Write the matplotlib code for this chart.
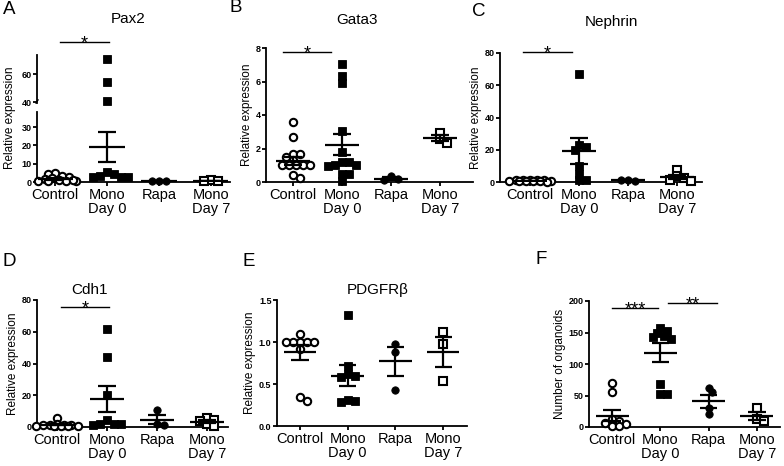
import matplotlib
matplotlib.use('Agg')
import matplotlib.pyplot as plt

plt.rcParams['font.family'] = ['Liberation Sans', 'DejaVu Sans']

# --- DATA ---
groups = ['Control', 'Mono\nDay 0', 'Rapa', 'Mono\nDay 7']

# A - Pax2
pax2_ctrl = [4.8, 3.5, 4.6, 2.8, 2.0, 1.5, 1.0, 0.8, 0.6, 0.4, 0.5, 1.2]
pax2_mono0 = [71, 54, 40.5, 5.5, 4.5, 3.5, 3.0, 2.5, 2.5]
pax2_rapa = [0.3, 0.3, 0.3]
pax2_mono7 = [0.9, 0.6, 0.4]
pax2_mean = [1.8, 19.2, 0.3, 0.6]
pax2_sem = [0.5, 8.2, 0.02, 0.15]

# B - Gata3
gata3_ctrl = [3.6, 2.7, 1.7, 1.7, 1.5, 1.3, 1.0, 1.0, 1.0, 1.0, 1.0, 0.4, 0.25]
gata3_mono0 = [7.05, 6.35, 5.9, 3.05, 1.8, 1.2, 1.2, 1.0, 1.0, 0.95, 0.5, 0.45, 0.05]
gata3_rapa = [0.35, 0.15, 0.1]
gata3_mono7 = [2.95, 2.55, 2.35]
gata3_mean = [1.28, 2.23, 0.2, 2.65]
gata3_sem = [0.24, 0.63, 0.07, 0.18]

# C - Nephrin
neph_ctrl = [1.5, 1.2, 1.0, 1.0, 1.0, 0.8, 0.8, 0.6, 0.5, 0.5, 0.4, 0.3]
neph_mono0 = [67, 23, 22, 20, 10, 5, 1.5, 1.5]
neph_rapa = [1.2, 0.8, 1.0]
neph_mono7 = [7.5, 3.8, 2.2, 1.5, 0.8]
neph_mean = [0.8, 19.0, 1.0, 3.3]
neph_sem = [0.1, 8.0, 0.1, 1.3]

# D - Cdh1
cdh1_ctrl = [5.5, 2.0, 1.5, 1.2, 1.0, 1.0, 0.8, 0.6, 0.5, 0.5, 0.4]
cdh1_mono0 = [62, 44, 20, 4.5, 2.2, 2.0, 1.8, 1.5]
cdh1_rapa = [11, 2.0, 1.0]
cdh1_mono7 = [5.5, 4.5, 3.5, 2.0, 0.8]
cdh1_mean = [1.4, 17.5, 4.6, 3.2]
cdh1_sem = [0.45, 8.2, 2.9, 0.9]

# E - PDGFRb
pdgf_ctrl = [1.1, 1.0, 1.0, 1.0, 1.0, 1.0, 0.92, 0.34, 0.3]
pdgf_mono0 = [1.32, 0.72, 0.62, 0.6, 0.58, 0.31, 0.3, 0.28]
pdgf_rapa = [0.98, 0.88, 0.43]
pdgf_mono7 = [1.12, 0.98, 0.54]
pdgf_mean = [0.88, 0.6, 0.77, 0.88]
pdgf_sem = [0.09, 0.125, 0.17, 0.175]

# F - organoids
org_ctrl = [70, 55, 12, 10, 6, 4, 2, 1]
org_mono0 = [157, 152, 150, 145, 143, 140, 68, 53, 53]
org_rapa = [62, 55, 30, 20]
org_mono7 = [30, 13, 10]
org_mean = [18, 118, 40.5, 17]
org_sem = [9, 15.5, 10, 6.5]

W, H = 784, 466
STYLES = [dict(marker='o', mfc='white', mec='black', mew=1.5),
          dict(marker='s', mfc='black', mec='black', mew=0.6),
          dict(marker='o', mfc='black', mec='black', mew=0.6),
          dict(marker='s', mfc='white', mec='black', mew=1.5)]


def box(l, t, r, b):
    return [l / W, 1 - b / H, (r - l) / W, (b - t) / H]


def swarm(ax, vals, d=5.5, step=3.5, maxoff=22):
    # horizontal offsets (pixels -> data) so markers overlap only a little
    tr = ax.transData.transform
    unit = tr((1, 0))[0] - tr((0, 0))[0]
    placed, offs = [], []
    cands = [0.0]
    k = 1
    while k * step <= maxoff:
        cands += [k * step, -k * step]
        k += 1
    for v in vals:
        y = tr((0, v))[1]
        best, bestd = 0.0, -1
        for c in cands:
            md = min([((c - px) ** 2 + (y - py) ** 2) ** 0.5 for px, py in placed] or [99])
            if md >= d:
                best = c
                break
            if md > bestd:
                best, bestd = c, md
        placed.append((best, y))
        offs.append(best / unit)
    return offs


def draw_points(ax, data, lo=None, hi=None):
    for i, vals in enumerate(data):
        v = [x for x in vals if (lo is None or x >= lo) and (hi is None or x <= hi)]
        if not v:
            continue
        offs = swarm(ax, v)
        ax.plot([i + o for o in offs], v, ls='none', ms=5.3, clip_on=False, zorder=3, **STYLES[i])


def draw_mean(ax, means, sems):
    for i, (m, s) in enumerate(zip(means, sems)):
        kw = dict(color='black', lw=1.6, zorder=4, solid_capstyle='butt')
        ax.plot([i - 0.34, i + 0.34], [m, m], **kw)
        ax.plot([i, i], [m - s, m + s], **kw)
        for e in (m - s, m + s):
            ax.plot([i - 0.18, i + 0.18], [e, e], **kw)


def style(ax, xlim, ylim, yticks, ylabels, xlabels=True):
    for s in ('top', 'right'):
        ax.spines[s].set_visible(False)
    for s in ('left', 'bottom'):
        ax.spines[s].set_linewidth(1.3)
    ax.set_xlim(xlim)
    ax.set_ylim(ylim)
    ax.set_yticks(yticks, labels=ylabels, fontweight='bold', fontsize=6.5)
    ax.tick_params(axis='y', length=3, width=1.3, pad=1)
    if xlabels:
        ax.set_xticks(range(4), labels=groups, fontsize=10.5, linespacing=1.0)
        ax.tick_params(axis='x', length=3, width=1.3, pad=1)
    else:
        ax.set_xticks([])
        ax.spines['bottom'].set_visible(False)


def star_line(ax, x0, x1, y, text):
    ax.plot([x0, x1], [y, y], color='black', lw=1.0, clip_on=False)
    ax.annotate(text, ((x0 + x1) / 2, y), xytext=(0, -4.5), textcoords='offset points',
                ha='center', va='baseline', fontsize=13, annotation_clip=False)


fig = plt.figure(figsize=(W / 100, H / 100), dpi=100)

# A (broken axis)
axA = fig.add_axes(box(37, 112, 230, 182))
axA2 = fig.add_axes(box(37, 55, 230, 103))
style(axA, (-0.35, 3.37), (0, 38.2), [0, 10, 20, 30], ['0', '10', '20', '30'])
style(axA2, (-0.35, 3.37), (39.3, 73.6), [40, 60], ['40', '60'], xlabels=False)
dataA = [pax2_ctrl, pax2_mono0, pax2_rapa, pax2_mono7]
draw_points(axA, dataA, hi=38.2)
draw_points(axA2, dataA, lo=38.2)
draw_mean(axA, pax2_mean, pax2_sem)
axA2.plot([-0.37, -0.33], [39.3, 41.5], color='black', lw=1.0, clip_on=False)
star_line(axA2, 0.1, 1.04, 82.6, '*')
fig.text(10 / W, 1 - 118 / H, 'Relative expression', rotation=90, ha='center', va='center', fontsize=8.5)

# B
axB = fig.add_axes(box(266, 48, 473, 182))
style(axB, (-0.55, 3.67), (0, 8), [0, 2, 4, 6, 8], ['0', '2', '4', '6', '8'])
draw_points(axB, [gata3_ctrl, gata3_mono0, gata3_rapa, gata3_mono7])
draw_mean(axB, gata3_mean, gata3_sem)
star_line(axB, -0.2, 0.78, 7.76, '*')

# C
axC = fig.add_axes(box(500, 53, 702, 182))
style(axC, (-0.61, 3.51), (0, 80), [0, 20, 40, 60, 80], ['0', '20', '40', '60', '80'])
draw_points(axC, [neph_ctrl, neph_mono0, neph_rapa, neph_mono7])
draw_mean(axC, neph_mean, neph_sem)
star_line(axC, -0.14, 0.86, 80.6, '*')

# D
axD = fig.add_axes(box(37, 300, 228, 427))
style(axD, (-0.4, 3.42), (0, 80), [0, 20, 40, 60, 80], ['0', '20', '40', '60', '80'])
draw_points(axD, [cdh1_ctrl, cdh1_mono0, cdh1_rapa, cdh1_mono7])
draw_mean(axD, cdh1_mean, cdh1_sem)
star_line(axD, 0.08, 1.04, 75.6, '*')

# E
axE = fig.add_axes(box(277, 300, 467, 426))
style(axE, (-0.48, 3.5), (0, 1.5), [0, 0.5, 1.0, 1.5], ['0.0', '0.5', '1.0', '1.5'])
draw_points(axE, [pdgf_ctrl, pdgf_mono0, pdgf_rapa, pdgf_mono7])
draw_mean(axE, pdgf_mean, pdgf_sem)

# F
axF = fig.add_axes(box(589, 301, 780, 427))
style(axF, (-0.48, 3.48), (0, 200), [0, 50, 100, 150, 200], ['0', '50', '100', '150', '200'])
draw_points(axF, [org_ctrl, org_mono0, org_rapa, org_mono7])
draw_mean(axF, org_mean, org_sem)
star_line(axF, 0.0, 0.95, 188.9, '***')
star_line(axF, 1.16, 2.17, 196.8, '**')

for ax in (axB, axC, axD, axE):
    ax.set_ylabel('Relative expression', fontsize=8.5, labelpad=2)
axF.set_ylabel('Number of organoids', fontsize=8.5, labelpad=2)

# titles and panel letters
for txt, x, y in [('Pax2', 128, 19), ('Gata3', 357, 20), ('Nephrin', 611, 22),
                  ('Cdh1', 90, 290), ('PDGFRβ', 378, 290)]:
    fig.text(x / W, 1 - y / H, txt, ha='center', va='center', fontsize=11)
for txt, x, y in [('A', 9, 9), ('B', 236, 8), ('C', 479, 12),
                  ('D', 9, 261), ('E', 249, 261), ('F', 541, 260)]:
    fig.text(x / W, 1 - y / H, txt, ha='center', va='center', fontsize=13.5)

fig.savefig('out.png', dpi=100)
